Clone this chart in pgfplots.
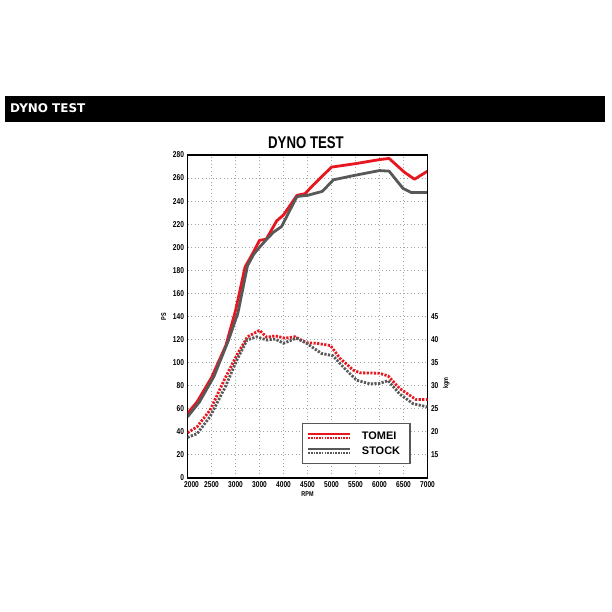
\documentclass[border=0pt]{standalone}
\usepackage{fontspec}
\setmainfont{Liberation Sans}
\newfontfamily\cond[FakeStretch=0.78]{Liberation Sans}
\newfontfamily\bannerfont{DejaVu Sans}
\usepackage{pgfplots}
\pgfplotsset{compat=1.18}
\definecolor{tred}{RGB}{232,22,30}
\definecolor{tgrey}{RGB}{88,88,88}
\definecolor{gridc}{RGB}{165,165,165}

\begin{document}
\begin{tikzpicture}[x=1bp,y=1bp]
\useasboundingbox (0,0) rectangle (612,612);
\fill[white] (0,0) rectangle (612,612);
\fill[black] (5,490) rectangle (605,516);
\node[anchor=west, text=white, font=\bannerfont\bfseries\fontsize{12}{14}\selectfont, inner sep=0] at (10,503.5) {DYNO TEST};
\node[font=\cond\bfseries\fontsize{17}{19}\selectfont, inner sep=0] at (306,469) {DYNO TEST};

\begin{axis}[
  at={(187.5bp,134bp)}, anchor=south west,
  width=240bp, height=323bp, scale only axis,
  xmin=2000, xmax=7000, ymin=0, ymax=280,
  xtick={2000,2500,...,7000},
  xticklabels={\hspace*{8bp}2000,2500,3000,3000,4000,4500,5000,5500,6000,6500,7000},
  ytick={0,20,...,280},
  grid=major,
  major grid style={gridc, line width=1bp, dash pattern=on 1bp off 2.6bp},
  major tick length=0,
  axis line style={line width=1.3bp},
  tick label style={font=\cond\bfseries\fontsize{8.5}{9}\selectfont},
  /pgf/number format/assume math mode=true,
  /pgf/number format/set thousands separator={},
  xlabel={RPM}, ylabel={PS},
  label style={font=\cond\bfseries\fontsize{7}{8}\selectfont},
  xlabel style={yshift=2.5bp},
  ylabel style={yshift=0bp},
]
\addplot[tred, line width=2.8bp, line join=round] coordinates {
(2000,56) (2200,66) (2500,87) (2800,115) (3000,145) (3200,183) (3350,194)
(3500,206) (3640,207) (3860,223) (4000,228) (4280,245) (4450,246.5)
(4620,254) (5000,269.5) (5500,272.5) (6000,276) (6200,277) (6520,265)
(6730,259) (7000,266)};
\addplot[tgrey, line width=2.8bp, line join=round] coordinates {
(2000,53) (2250,66) (2550,88) (2850,119) (3050,143) (3250,184) (3380,194)
(3500,200) (3650,207) (3790,213) (3960,218) (4280,244) (4500,245)
(4810,248.5) (5040,258.5) (5500,262.5) (6000,266.5) (6200,266) (6490,251)
(6660,247.5) (7000,247.5)};
\end{axis}

\begin{axis}[
  at={(187.5bp,134bp)}, anchor=south west,
  width=240bp, height=323bp, scale only axis,
  xmin=2000, xmax=7000, ymin=10, ymax=80,
  axis x line=none, axis y line*=right,
  ytick={15,20,...,45},
  major tick length=0,
  axis line style={line width=1.3bp},
  tick label style={font=\cond\bfseries\fontsize{8.5}{9}\selectfont},
  /pgf/number format/assume math mode=true,
  ylabel={kgm},
  ylabel style={at={(axis description cs:1.078,0.294)}, anchor=center, font=\cond\bfseries\fontsize{7}{8}\selectfont},
  legend style={at={(axis description cs:0.476,0.042)}, anchor=south west,
    draw=tgrey, line width=1.2bp, fill=white, inner xsep=5bp, inner ysep=6bp,
    row sep=2bp, font=\bfseries\fontsize{11}{12}\selectfont,
    nodes={text width=41bp, align=left}},
  legend cell align=left,
]
\addlegendimage{legend image code/.code={
  \draw[tred, line width=2bp] (0bp,1.8bp) -- (42bp,1.8bp);
  \draw[tred, line width=2bp, dash pattern=on 1.6bp off 1.1bp] (0bp,-1.8bp) -- (42bp,-1.8bp);
  \path (51bp,0bp);}}
\addlegendentry{TOMEI}
\addlegendimage{legend image code/.code={
  \draw[tgrey, line width=2bp] (0bp,1.8bp) -- (42bp,1.8bp);
  \draw[tgrey, line width=2bp, dash pattern=on 1.6bp off 1.1bp] (0bp,-1.8bp) -- (42bp,-1.8bp);
  \path (51bp,0bp);}}
\addlegendentry{STOCK}
\addplot[tred, line width=2.8bp, dash pattern=on 2.2bp off 1.4bp, forget plot] coordinates {
(2000,19.8) (2200,21.1) (2470,24.7) (2750,30.9) (3030,36.7) (3250,40.6)
(3500,42) (3650,40.5) (3830,40.8) (4030,40.3) (4240,40.6) (4480,39.3)
(4690,39.2) (4980,38.7) (5170,36) (5450,33.4) (5590,32.8) (6000,32.7)
(6180,32.1) (6420,29.4) (6760,27) (7000,27)};
\addplot[tgrey, line width=2.8bp, dash pattern=on 2.2bp off 1.4bp, forget plot] coordinates {
(2000,18.8) (2200,19.6) (2470,23.3) (2790,29.8) (3030,35.6) (3240,39.9)
(3440,40.6) (3650,39.9) (3830,40.1) (4000,39.2) (4270,40.3) (4480,39.2)
(4790,37) (5030,36.5) (5240,34.1) (5520,31.2) (5800,30.4) (6000,30.5)
(6180,31.1) (6420,28.2) (6700,26.1) (7000,25.4)};
\end{axis}
\end{tikzpicture}
\end{document}
